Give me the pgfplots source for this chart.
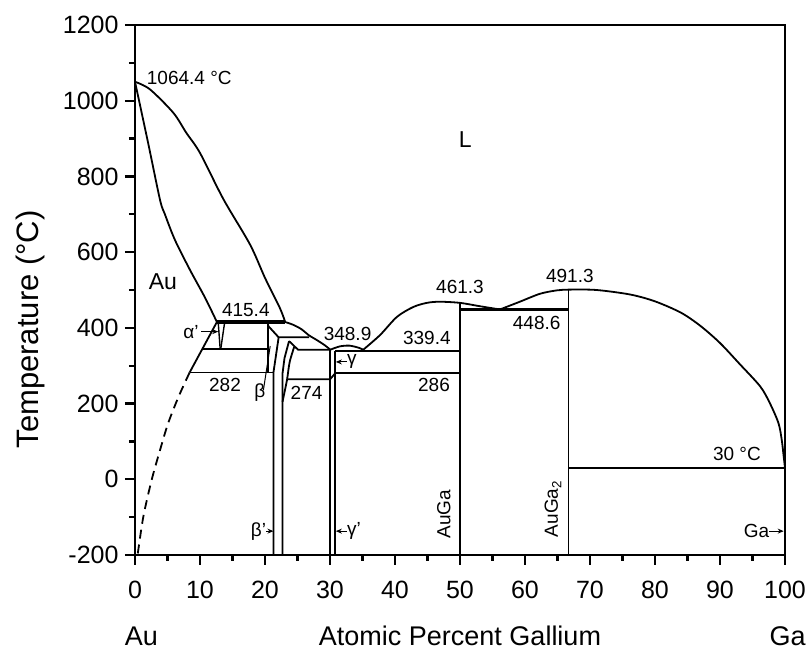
\documentclass[border=0pt]{standalone}
\usepackage{pgfplots}
\pgfplotsset{compat=1.18}
\usepackage{fontspec}
\setmainfont{Liberation Sans}
\usetikzlibrary{arrows.meta}
\newcommand\af{\fontsize{19}{22}\selectfont}
\tikzset{ann/.style={font=\af, inner sep=0pt},
 arr/.style={line width=1pt, -{Stealth[length=6pt,width=5pt]}},
 pl/.style={black, solid, line width=1.8pt, mark=none},
 pt/.style={black, solid, line width=3.4pt, mark=none}}
\begin{document}
\begin{tikzpicture}
\useasboundingbox (-135pt,-95pt) rectangle (674pt,555pt);
\begin{axis}[
 at={(0pt,0pt)}, anchor=south west,
 width=650pt, height=530pt, scale only axis,
 xmin=0, xmax=100, ymin=-200, ymax=1200,
 xtick={0,10,...,100}, ytick={-200,0,...,1200},
 minor x tick num=1, minor y tick num=1,
 tick pos=left, tick align=outside,
 major tick length=10pt, minor tick length=6pt,
 tick style={black, line width=2.2pt},
 axis line style={line width=2.5pt},
 /pgf/number format/assume math mode=true,
 /pgf/number format/1000 sep={},
 tick label style={font=\fontsize{25}{30}\selectfont},
 xticklabel style={yshift=-13pt},
 yticklabel style={xshift=-3pt},
 clip=false,
]
% liquidus from Au
\addplot[pl, smooth] coordinates {(0,1050) (2.3,1030) (5.9,968) (7.9,915) (10,862) (13.6,740) (17.7,620) (20,532) (22.3,452) (23.1,415.4)};
% solidus of Au
\addplot[pl, smooth] coordinates {(0,1050) (2,890) (3.85,738) (4.6,700) (6.15,632) (8.46,553) (10.8,479) (12.6,415.4)};
% dashed solvus
\addplot[pl, smooth, dash pattern=on 9pt off 6pt] coordinates {(8.4,282) (6.7,218) (5.1,148) (3.85,77) (2.56,-2) (1.28,-99) (0.4,-200)};
% 415.4 peritectic
\addplot[pt] coordinates {(12.6,415.4) (23.1,415.4)};
% (Au) boundary below 415.4
\addplot[pl] coordinates {(12.6,415.4) (8.4,282)};
\addplot[pl] coordinates {(10.38,345) (20.5,345)};
\addplot[pl] coordinates {(8.4,282) (21.3,282)};
\addplot[pl] coordinates {(20.5,415.4) (20.5,282)};
% alpha' wedge
\addplot[pl, line width=1.4pt] coordinates {(12.8,415.4) (13.1,345)};
\addplot[pl, line width=1.4pt] coordinates {(13.8,415.4) (13.2,345)};
% beta region
\addplot[pl] coordinates {(20.5,405) (22.1,375) (26.8,375)};
\addplot[pl] coordinates {(22.1,375) (21.3,282) (21.3,-200)};
% liquidus right of 415.4
\addplot[pl, smooth] coordinates {(23.1,415.4) (24.35,408) (25.65,396) (26.7,381) (27.95,368) (29.2,354) (30,343)};
% beta' right boundary
\addplot[pl] coordinates {(23.7,365) (23.0,320) (22.7,280) (22.7,-200)};
\addplot[pl] coordinates {(23.7,365) (25.1,342) (30,342)};
\addplot[pl, smooth] coordinates {(24.5,350) (23.8,310) (23.4,264) (23.0,230) (22.7,205)};
% 274 line
\addplot[pl] coordinates {(23.4,264) (30,264) (30.8,280)};
% gamma
\addplot[pl] coordinates {(30,343) (30,-200)};
\addplot[pl] coordinates {(30.8,340) (30.8,-200)};
\addplot[pl, smooth] coordinates {(30,342) (31.5,351) (33,353) (34.5,347) (35.1,342)};
\addplot[pl] coordinates {(30.8,339.4) (50,339.4)};
\addplot[pl] coordinates {(30.8,280) (50,280)};
% AuGa liquidus and beyond
\addplot[pl, smooth] coordinates {(35.1,342) (37.7,381) (40.3,429) (42.8,455) (44.9,466) (46.9,469) (50,466) (53.1,457) (56.15,448.6)};
\addplot[pl, smooth] coordinates {(56.15,448.6) (59.2,469) (62.3,490) (64.9,499) (66.9,501) (71,500) (76.2,488) (80,470) (84,440) (87,405) (90,360) (93,305) (96.2,245) (97.7,200) (99,148) (99.5,104) (99.8,60) (100,30)};
% compounds
\addplot[pl] coordinates {(50,466) (50,-200)};
\addplot[pl] coordinates {(66.7,500) (66.7,-200)};
\addplot[pt] coordinates {(50,448.6) (66.7,448.6)};
\addplot[pl] coordinates {(66.7,30) (100,30)};

% annotations
\node[ann, anchor=west] at (axis cs:1.8,1059) {1064.4 °C};
\node[font=\fontsize{23}{27}\selectfont] at (axis cs:50.8,896) {L};
\node[font=\fontsize{23}{27}\selectfont] at (axis cs:4.3,521) {Au};
\node[ann] at (axis cs:17.05,447) {415.4};
\node[ann] at (axis cs:8.6,390) {α’};
\draw[arr] (axis cs:10.2,390) -- (axis cs:12.8,390);
\node[ann] at (axis cs:13.85,249) {282};
\node[ann] at (axis cs:19.2,229) {β};
\draw[line width=1pt] (axis cs:19.75,235) -- (axis cs:20.8,352);
\node[ann] at (axis cs:26.4,229) {274};
\node[ann] at (axis cs:32.7,384) {348.9};
\node[ann, anchor=west] at (axis cs:32.6,310) {γ};
\draw[arr] (axis cs:32.6,310) -- (axis cs:30.9,310);
\node[ann] at (axis cs:44.9,372) {339.4};
\node[ann] at (axis cs:46,250) {286};
\node[ann] at (axis cs:50,507) {461.3};
\node[ann] at (axis cs:66.9,537) {491.3};
\node[ann] at (axis cs:61.8,412) {448.6};
\node[ann] at (axis cs:92.6,67) {30 °C};
\node[ann, rotate=90] at (axis cs:47.5,-92) {AuGa};
\node[ann, rotate=90] at (axis cs:64.3,-78) {AuGa\textsubscript{2}};
\node[ann, anchor=east] at (axis cs:97.6,-137) {Ga};
\draw[arr] (axis cs:97.6,-137) -- (axis cs:99.8,-137);
\node[ann, anchor=east] at (axis cs:20.2,-137) {β’};
\draw[arr] (axis cs:20.2,-137) -- (axis cs:21.3,-137);
\node[ann, anchor=west] at (axis cs:32.6,-137) {γ’};
\draw[arr] (axis cs:32.6,-137) -- (axis cs:30.9,-137);
% axis labels
\node[font=\fontsize{27}{32}\selectfont] at (axis cs:50,-414) {Atomic Percent Gallium};
\node[font=\fontsize{27}{32}\selectfont] at (axis cs:1,-414) {Au};
\node[font=\fontsize{27}{32}\selectfont] at (axis cs:100.4,-414) {Ga};
\node[rotate=90, font=\fontsize{31}{37}\selectfont] at (axis cs:-16.15,396) {Temperature (°C)};
\end{axis}
\end{tikzpicture}
\end{document}
